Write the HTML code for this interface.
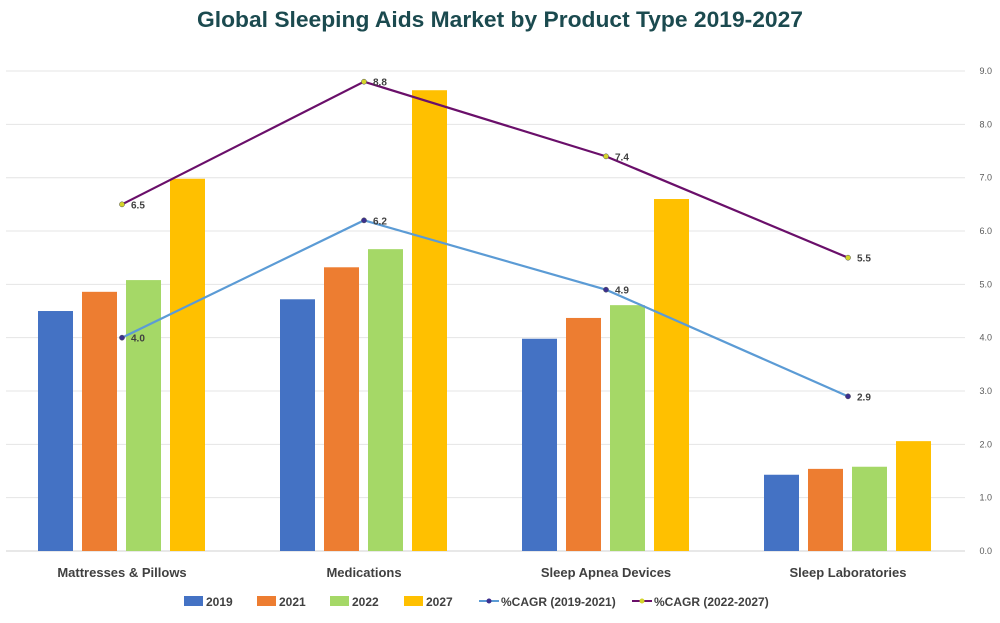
<!DOCTYPE html>
<html><head><meta charset="utf-8"><style>
html,body{margin:0;padding:0;background:#fff;}
svg{display:block;font-family:"Liberation Sans",sans-serif;}
</style></head><body>
<svg id="chart" width="1000" height="623" viewBox="0 0 1000 623">
<text x="500" y="27" text-anchor="middle" font-size="22" font-weight="bold" fill="#1b4a4f" textLength="606" lengthAdjust="spacingAndGlyphs">Global Sleeping Aids Market by Product Type 2019-2027</text>
<g id="grid"></g><g id="bars"></g><g id="lines"></g><g id="labels"></g><g id="legend"></g>
</svg>
<script>
const categories = ["Mattresses & Pillows","Medications","Sleep Apnea Devices","Sleep Laboratories"];
const years = ["2019","2021","2022","2027"];
const v2019 = [4.5, 4.72, 3.98, 1.43];
const v2021 = [4.86, 5.32, 4.37, 1.54];
const v2022 = [5.08, 5.66, 4.61, 1.58];
const v2027 = [6.98, 8.64, 6.6, 2.06];
const cagr1 = [4.0, 6.2, 4.9, 2.9];
const cagr2 = [6.5, 8.8, 7.4, 5.5];
const ticks = [0,1,2,3,4,5,6,7,8,9];

const NS="http://www.w3.org/2000/svg";
const barColors=["#4472c4","#ed7d31","#a5d867","#ffc000"];
const series=[v2019,v2021,v2022,v2027];
const y0=551, pxu=53.33;
const y=v=>y0-v*pxu;
const cx=i=>122+i*242;
function mk(tag,attrs,parent){const e=document.createElementNS(NS,tag);for(const k in attrs)e.setAttribute(k,attrs[k]);parent.appendChild(e);return e;}
const grid=document.getElementById('grid');
ticks.forEach(t=>{
  const l=mk('line',{x1:6,x2:965,y1:y(t),y2:y(t),stroke:t===0?'#d0d0d0':'#e4e4e4','stroke-width':1},grid);
  
  
  const tx=mk('text',{x:992,y:y(t)+3,'text-anchor':'end','font-size':9,fill:'#595959'},grid);
  tx.textContent=t.toFixed(1);
  
  
});
const bars=document.getElementById('bars');
categories.forEach((c,i)=>{
  series.forEach((s,j)=>{
    const r=mk('rect',{x:cx(i)-84+j*44,y:y(s[i]),width:35,height:s[i]*pxu,fill:barColors[j]},bars);
    
    
  });
  const t=mk('text',{x:cx(i),y:577,'text-anchor':'middle','font-size':13,'font-weight':'bold',fill:'#404040'},document.getElementById('labels'));
  t.textContent=c;
  
  
});
const lines=document.getElementById('lines');
[[cagr1,'#5b9bd5','#3b2f8f'],[cagr2,'#6a0f6a','#d4d42a']].forEach(([d,col,mc],k)=>{
  const p=mk('polyline',{points:d.map((v,i)=>cx(i)+','+y(v)).join(' '),fill:'none',stroke:col,'stroke-width':2.2},lines);
  
  
  d.forEach((v,i)=>{
    const m=mk('circle',{cx:cx(i),cy:y(v),r:2.6,fill:mc,stroke:'#555','stroke-width':0.5},lines);
    
    
    const t=mk('text',{x:cx(i)+9,y:y(v)+4,'font-size':10,'font-weight':'bold',fill:'#404040'},lines);
    t.textContent=v.toFixed(1);
    
    
  });
});
const lg=document.getElementById('legend');
const legItems=[[184,'2019',0],[257,'2021',1],[330,'2022',2],[404,'2027',3]];
legItems.forEach(([x,l,j])=>{
  const r=mk('rect',{x:x,y:596,width:19,height:10,fill:barColors[j]},lg);
  
  
  const t=mk('text',{x:x+22,y:606,'font-size':12,'font-weight':'bold',fill:'#404040'},lg);
  t.textContent=l;
  
  
});
[[479,'%CAGR (2019-2021)','#5b9bd5','#3b2f8f'],[632,'%CAGR (2022-2027)','#6a0f6a','#d4d42a']].forEach(([x,l,c,mc])=>{
  const ln=mk('line',{x1:x,x2:x+20,y1:601,y2:601,stroke:c,'stroke-width':2},lg);
  
  
  const m=mk('circle',{cx:x+10,cy:601,r:2.5,fill:mc},lg);
  
  
  const t=mk('text',{x:x+22,y:606,'font-size':12,'font-weight':'bold',fill:'#404040'},lg);
  t.textContent=l;
  
  
});
</script>
</body></html>
